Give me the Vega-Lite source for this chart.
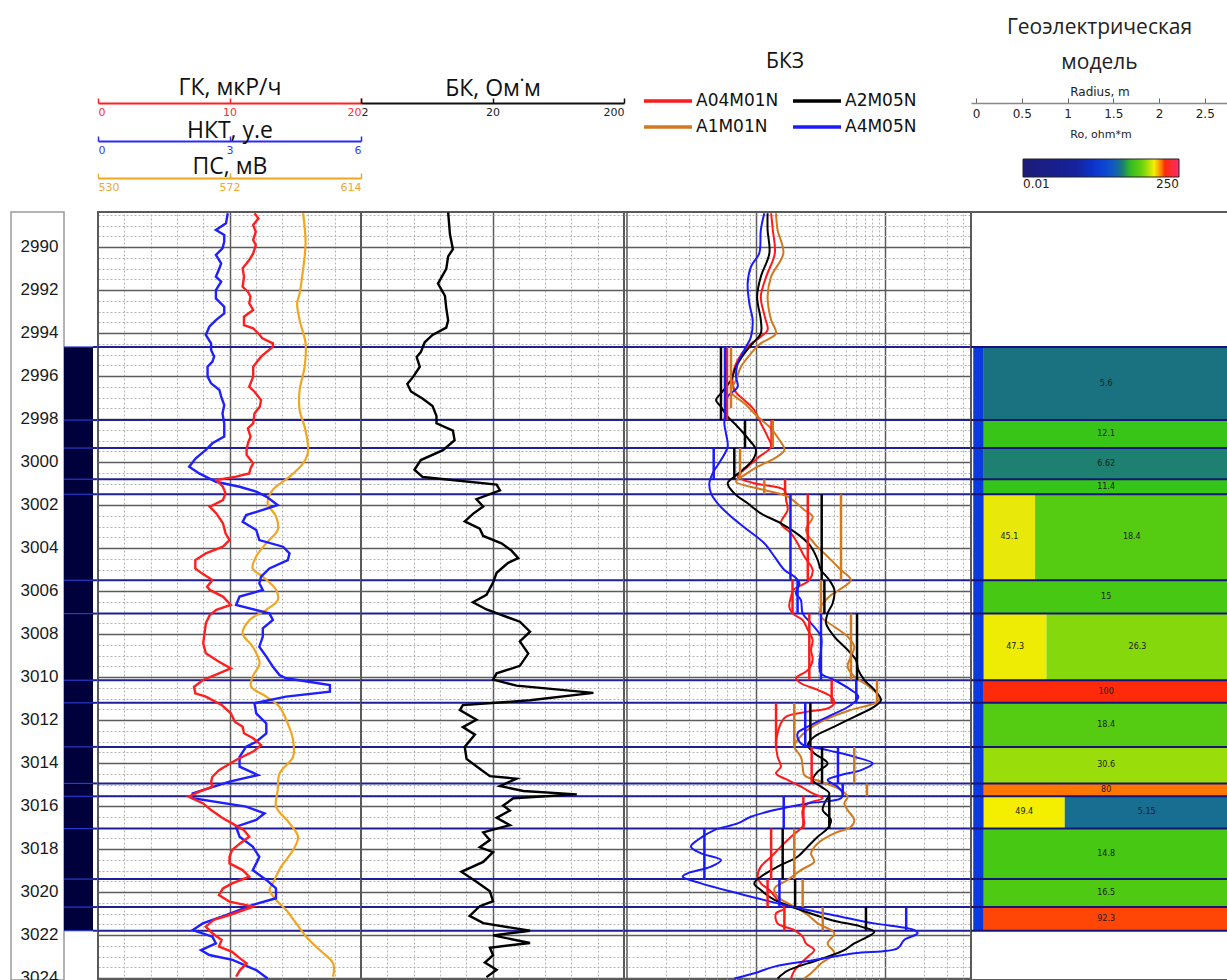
{
"$schema": "https://vega.github.io/schema/vega-lite/v6.json",
"padding": {"left": 10, "top": 16, "right": 0, "bottom": 0},
"background": "white",
"bounds": "flush",
"spacing": 0,
"config": {"view": {"stroke": "#5a5a5a", "strokeWidth": 2}, "font": "DejaVu Sans", "axis": {"titleFontWeight": "normal"}},
"datasets": {
"lith": [{"top": 2994.65, "bot": 3021.8}],
"bounds": [{"d":2994.65},{"d":2998.05},{"d":2999.35},{"d":3000.8},{"d":3001.5},{"d":3005.5},{"d":3007.05},{"d":3010.15},{"d":3011.2},{"d":3013.25},{"d":3014.95},{"d":3015.55},{"d":3017.05},{"d":3019.4},{"d":3020.7},{"d":3021.8}],
"gk": [{"d":2988.43,"v":11.9},{"d":2988.67,"v":12.2},{"d":2988.98,"v":11.8},{"d":2989.29,"v":12.0},{"d":2989.67,"v":11.8},{"d":2989.91,"v":12.0},{"d":2990.30,"v":11.8},{"d":2990.61,"v":11.5},{"d":2990.99,"v":11.0},{"d":2991.38,"v":11.1},{"d":2991.85,"v":11.0},{"d":2992.08,"v":11.4},{"d":2992.31,"v":11.6},{"d":2992.62,"v":11.5},{"d":2992.93,"v":11.8},{"d":2993.24,"v":11.1},{"d":2993.63,"v":11.1},{"d":2993.78,"v":11.8},{"d":2994.09,"v":12.3},{"d":2994.25,"v":12.5},{"d":2994.48,"v":13.3},{"d":2994.64,"v":13.3},{"d":2995.10,"v":12.4},{"d":2995.57,"v":11.8},{"d":2996.03,"v":11.8},{"d":2996.50,"v":11.5},{"d":2996.73,"v":11.9},{"d":2997.12,"v":12.4},{"d":2997.43,"v":12.3},{"d":2997.74,"v":11.9},{"d":2998.20,"v":11.8},{"d":2998.43,"v":11.4},{"d":2998.82,"v":11.6},{"d":2999.13,"v":11.4},{"d":2999.44,"v":11.3},{"d":2999.67,"v":11.3},{"d":3000.06,"v":11.8},{"d":3000.30,"v":11.6},{"d":3000.53,"v":11.5},{"d":3000.68,"v":10.5},{"d":3000.84,"v":9.0},{"d":3001.15,"v":9.5},{"d":3001.46,"v":9.7},{"d":3001.77,"v":9.5},{"d":3002.08,"v":8.5},{"d":3002.39,"v":9.0},{"d":3002.85,"v":9.5},{"d":3003.32,"v":9.7},{"d":3003.63,"v":10.0},{"d":3003.94,"v":9.5},{"d":3004.25,"v":8.2},{"d":3004.56,"v":7.4},{"d":3004.95,"v":7.4},{"d":3005.18,"v":7.9},{"d":3005.49,"v":8.7},{"d":3005.80,"v":8.3},{"d":3005.95,"v":8.5},{"d":3006.26,"v":9.5},{"d":3006.65,"v":10.1},{"d":3006.88,"v":9.0},{"d":3007.12,"v":8.5},{"d":3007.50,"v":8.2},{"d":3007.97,"v":8.1},{"d":3008.43,"v":8.0},{"d":3008.90,"v":8.2},{"d":3009.29,"v":9.2},{"d":3009.60,"v":10.1},{"d":3009.83,"v":9.2},{"d":3010.14,"v":8.0},{"d":3010.45,"v":7.3},{"d":3010.76,"v":7.4},{"d":3010.91,"v":8.2},{"d":3011.30,"v":9.4},{"d":3011.69,"v":10.1},{"d":3012.08,"v":10.4},{"d":3012.31,"v":11.0},{"d":3012.62,"v":11.1},{"d":3012.85,"v":11.8},{"d":3013.16,"v":12.4},{"d":3013.47,"v":11.8},{"d":3013.86,"v":10.5},{"d":3014.33,"v":9.2},{"d":3014.64,"v":8.7},{"d":3014.87,"v":8.6},{"d":3015.10,"v":8.7},{"d":3015.33,"v":7.7},{"d":3015.57,"v":6.9},{"d":3015.88,"v":8.0},{"d":3016.19,"v":8.6},{"d":3016.57,"v":9.5},{"d":3016.81,"v":10.2},{"d":3017.12,"v":11.1},{"d":3017.43,"v":11.5},{"d":3017.74,"v":10.8},{"d":3018.05,"v":10.2},{"d":3018.36,"v":10.0},{"d":3018.67,"v":10.0},{"d":3018.98,"v":11.0},{"d":3019.29,"v":11.5},{"d":3019.60,"v":10.2},{"d":3019.83,"v":9.5},{"d":3020.14,"v":9.2},{"d":3020.45,"v":10.0},{"d":3020.68,"v":11.8},{"d":3021.07,"v":10.0},{"d":3021.30,"v":8.8},{"d":3021.61,"v":8.2},{"d":3021.92,"v":8.7},{"d":3022.23,"v":9.4},{"d":3022.54,"v":9.2},{"d":3022.78,"v":10.2},{"d":3023.09,"v":10.8},{"d":3023.32,"v":11.3},{"d":3023.63,"v":10.8},{"d":3023.94,"v":10.5}],
"nkt": [{"d":2988.43,"v":2.96},{"d":2988.90,"v":2.92},{"d":2989.21,"v":2.69},{"d":2989.44,"v":2.88},{"d":2989.75,"v":2.88},{"d":2990.06,"v":2.84},{"d":2990.37,"v":2.69},{"d":2990.76,"v":2.81},{"d":2990.99,"v":2.77},{"d":2991.38,"v":2.69},{"d":2991.61,"v":2.81},{"d":2992.00,"v":2.69},{"d":2992.39,"v":2.69},{"d":2992.78,"v":2.88},{"d":2993.09,"v":2.88},{"d":2993.40,"v":2.69},{"d":2993.71,"v":2.54},{"d":2994.09,"v":2.46},{"d":2994.48,"v":2.58},{"d":2994.79,"v":2.58},{"d":2995.10,"v":2.65},{"d":2995.33,"v":2.61},{"d":2995.57,"v":2.50},{"d":2996.03,"v":2.50},{"d":2996.34,"v":2.58},{"d":2996.65,"v":2.77},{"d":2996.96,"v":2.81},{"d":2997.35,"v":2.88},{"d":2997.74,"v":2.84},{"d":2998.20,"v":2.88},{"d":2998.59,"v":2.88},{"d":2998.82,"v":2.88},{"d":2999.13,"v":2.61},{"d":2999.44,"v":2.46},{"d":2999.83,"v":2.23},{"d":3000.22,"v":2.08},{"d":3000.53,"v":2.31},{"d":3000.92,"v":2.69},{"d":3001.15,"v":3.23},{"d":3001.38,"v":3.61},{"d":3001.61,"v":3.84},{"d":3002.00,"v":4.10},{"d":3002.23,"v":3.76},{"d":3002.47,"v":3.38},{"d":3002.78,"v":3.30},{"d":3003.16,"v":3.61},{"d":3003.63,"v":3.68},{"d":3003.94,"v":4.22},{"d":3004.25,"v":4.37},{"d":3004.56,"v":4.33},{"d":3004.95,"v":3.91},{"d":3005.33,"v":3.72},{"d":3005.64,"v":3.68},{"d":3005.95,"v":3.76},{"d":3006.26,"v":3.23},{"d":3006.65,"v":3.15},{"d":3007.04,"v":3.91},{"d":3007.35,"v":3.99},{"d":3007.74,"v":3.76},{"d":3008.12,"v":3.76},{"d":3008.59,"v":3.68},{"d":3009.05,"v":3.84},{"d":3009.52,"v":3.99},{"d":3009.91,"v":4.14},{"d":3010.06,"v":4.29},{"d":3010.37,"v":5.29},{"d":3010.68,"v":5.29},{"d":3010.91,"v":4.29},{"d":3011.22,"v":3.57},{"d":3011.69,"v":3.61},{"d":3012.16,"v":3.84},{"d":3012.62,"v":3.84},{"d":3013.01,"v":3.61},{"d":3013.24,"v":3.38},{"d":3013.71,"v":3.23},{"d":3014.17,"v":3.23},{"d":3014.56,"v":3.65},{"d":3014.87,"v":3.00},{"d":3015.41,"v":2.16},{"d":3015.64,"v":2.16},{"d":3016.03,"v":3.38},{"d":3016.34,"v":3.80},{"d":3016.65,"v":3.61},{"d":3016.96,"v":3.15},{"d":3017.43,"v":3.23},{"d":3017.89,"v":3.53},{"d":3018.36,"v":3.68},{"d":3018.67,"v":3.61},{"d":3018.98,"v":3.53},{"d":3019.44,"v":3.84},{"d":3019.83,"v":4.06},{"d":3020.29,"v":4.06},{"d":3020.60,"v":3.53},{"d":3021.07,"v":2.92},{"d":3021.46,"v":2.39},{"d":3021.77,"v":2.16},{"d":3022.08,"v":2.61},{"d":3022.39,"v":2.69},{"d":3022.70,"v":2.35},{"d":3022.93,"v":2.54},{"d":3023.16,"v":3.07},{"d":3023.63,"v":3.61},{"d":3024.02,"v":3.87}],
"ps": [{"d":2988.43,"v":595.5},{"d":2989.83,"v":596.3},{"d":2991.38,"v":595.2},{"d":2992.16,"v":594.4},{"d":2992.62,"v":593.6},{"d":2993.40,"v":594.4},{"d":2994.48,"v":596.3},{"d":2995.57,"v":596.0},{"d":2996.65,"v":594.4},{"d":2997.58,"v":594.4},{"d":2998.36,"v":596.0},{"d":2999.13,"v":597.0},{"d":2999.60,"v":597.0},{"d":3000.06,"v":595.5},{"d":3000.68,"v":591.2},{"d":3001.30,"v":585.8},{"d":3001.92,"v":584.2},{"d":3002.54,"v":586.9},{"d":3003.16,"v":587.4},{"d":3003.78,"v":583.7},{"d":3004.40,"v":580.5},{"d":3004.95,"v":579.4},{"d":3005.33,"v":582.6},{"d":3005.95,"v":586.9},{"d":3006.42,"v":587.4},{"d":3006.88,"v":583.7},{"d":3007.35,"v":578.4},{"d":3007.97,"v":576.2},{"d":3008.59,"v":579.4},{"d":3009.36,"v":581.6},{"d":3009.98,"v":579.4},{"d":3010.45,"v":578.9},{"d":3010.91,"v":583.7},{"d":3011.38,"v":587.9},{"d":3012.16,"v":590.6},{"d":3012.93,"v":592.3},{"d":3013.71,"v":592.3},{"d":3014.48,"v":588.0},{"d":3015.26,"v":587.4},{"d":3016.03,"v":586.9},{"d":3016.81,"v":591.2},{"d":3017.43,"v":593.9},{"d":3018.05,"v":592.3},{"d":3018.82,"v":588.5},{"d":3019.60,"v":585.8},{"d":3019.91,"v":584.8},{"d":3020.37,"v":586.9},{"d":3020.84,"v":590.1},{"d":3021.46,"v":593.3},{"d":3022.08,"v":596.5},{"d":3022.70,"v":600.8},{"d":3023.32,"v":605.1},{"d":3023.94,"v":605.1}],
"bk": [{"d":2988.39,"v":9.2},{"d":2989.42,"v":9.5},{"d":2990.10,"v":10.0},{"d":2990.44,"v":9.2},{"d":2991.02,"v":8.9},{"d":2991.70,"v":7.7},{"d":2992.27,"v":8.7},{"d":2992.84,"v":8.9},{"d":2993.41,"v":9.2},{"d":2993.75,"v":8.9},{"d":2994.09,"v":7.0},{"d":2994.43,"v":6.1},{"d":2994.89,"v":5.7},{"d":2995.12,"v":5.3},{"d":2995.57,"v":5.6},{"d":2996.03,"v":5.0},{"d":2996.37,"v":4.5},{"d":2996.72,"v":4.8},{"d":2997.06,"v":5.9},{"d":2997.40,"v":7.0},{"d":2997.86,"v":7.5},{"d":2998.20,"v":7.5},{"d":2998.54,"v":10.0},{"d":2998.99,"v":10.3},{"d":2999.45,"v":8.4},{"d":2999.91,"v":5.7},{"d":3000.36,"v":5.1},{"d":3000.70,"v":5.9},{"d":3001.05,"v":21.5},{"d":3001.32,"v":22.8},{"d":3001.73,"v":15.1},{"d":3002.07,"v":17.0},{"d":3002.41,"v":14.2},{"d":3002.76,"v":12.3},{"d":3003.10,"v":16.0},{"d":3003.44,"v":17.0},{"d":3003.78,"v":23.4},{"d":3004.12,"v":27.9},{"d":3004.47,"v":31.4},{"d":3004.69,"v":26.3},{"d":3005.15,"v":21.5},{"d":3005.61,"v":20.2},{"d":3006.18,"v":18.0},{"d":3006.52,"v":14.2},{"d":3006.86,"v":18.0},{"d":3007.43,"v":32.3},{"d":3007.89,"v":38.6},{"d":3008.34,"v":32.3},{"d":3008.91,"v":37.4},{"d":3009.48,"v":32.3},{"d":3009.83,"v":21.5},{"d":3010.12,"v":20.2},{"d":3010.40,"v":30.5},{"d":3010.74,"v":117},{"d":3011.08,"v":38.6},{"d":3011.31,"v":11.9},{"d":3011.54,"v":11.3},{"d":3011.99,"v":15.1},{"d":3012.33,"v":11.9},{"d":3012.68,"v":14.7},{"d":3013.25,"v":12.3},{"d":3013.81,"v":12.7},{"d":3014.27,"v":16.0},{"d":3014.61,"v":19.1},{"d":3014.73,"v":30.5},{"d":3015.07,"v":22.8},{"d":3015.30,"v":34.3},{"d":3015.46,"v":87.5},{"d":3015.64,"v":28.8},{"d":3015.98,"v":24.1},{"d":3016.21,"v":27.1},{"d":3016.55,"v":21.5},{"d":3016.89,"v":27.1},{"d":3017.23,"v":17.0},{"d":3017.58,"v":19.1},{"d":3017.92,"v":16.0},{"d":3018.15,"v":20.2},{"d":3018.60,"v":17.0},{"d":3019.06,"v":11.6},{"d":3019.52,"v":15.1},{"d":3019.97,"v":19.1},{"d":3020.43,"v":20.2},{"d":3020.66,"v":16.0},{"d":3021.11,"v":13.4},{"d":3021.45,"v":17.0},{"d":3021.80,"v":38.6},{"d":3022.02,"v":20.2},{"d":3022.37,"v":38.6},{"d":3022.59,"v":19.1},{"d":3022.94,"v":20.2},{"d":3023.28,"v":17.5},{"d":3023.62,"v":21.5},{"d":3023.96,"v":18.0}],
"bkz": [
{"c":"A04M01N","d":2988.43,"v":13.1},{"c":"A04M01N","d":2989.21,"v":13.5},{"c":"A04M01N","d":2990.29,"v":14.0},{"c":"A04M01N","d":2991.38,"v":12.0},{"c":"A04M01N","d":2992.31,"v":10.9},{"c":"A04M01N","d":2993.24,"v":11.7},{"c":"A04M01N","d":2993.86,"v":12.3},{"c":"A04M01N","d":2994.17,"v":10.9},{"c":"A04M01N","d":2994.64,"v":8.62},{"c":"A04M01N","d":2995.26,"v":7.21},{"c":"A04M01N","d":2996.03,"v":6.59},{"c":"A04M01N","d":2996.65,"v":6.79},{"c":"A04M01N","d":2997.12,"v":8.12},{"c":"A04M01N","d":2997.58,"v":9.70},{"c":"A04M01N","d":2998.20,"v":10.9},{"c":"A04M01N","d":2998.82,"v":12.3},{"c":"A04M01N","d":2999.29,"v":13.1},{"c":"A04M01N","d":2999.75,"v":10.6},{"c":"A04M01N","d":3000.22,"v":8.62},{"c":"A04M01N","d":3000.68,"v":7.21},{"c":"A04M01N","d":3000.99,"v":9.70},{"c":"A04M01N","d":3001.30,"v":16.6},{"c":"A04M01N","d":3001.77,"v":17.1},{"c":"A04M01N","d":3002.23,"v":17.6},{"c":"A04M01N","d":3002.85,"v":15.6},{"c":"A04M01N","d":3003.32,"v":18.7},{"c":"A04M01N","d":3003.78,"v":21.0},{"c":"A04M01N","d":3004.40,"v":23.7},{"c":"A04M01N","d":3005.02,"v":27.5},{"c":"A04M01N","d":3005.49,"v":25.9},{"c":"A04M01N","d":3005.95,"v":19.5},{"c":"A04M01N","d":3006.26,"v":18.7},{"c":"A04M01N","d":3006.73,"v":18.1},{"c":"A04M01N","d":3007.04,"v":19.2},{"c":"A04M01N","d":3007.35,"v":23.0},{"c":"A04M01N","d":3007.81,"v":25.2},{"c":"A04M01N","d":3008.28,"v":27.5},{"c":"A04M01N","d":3008.74,"v":26.7},{"c":"A04M01N","d":3009.21,"v":27.5},{"c":"A04M01N","d":3009.68,"v":25.2},{"c":"A04M01N","d":3010.06,"v":20.4},{"c":"A04M01N","d":3010.29,"v":22.3},{"c":"A04M01N","d":3010.60,"v":30.1},{"c":"A04M01N","d":3010.91,"v":38.1},{"c":"A04M01N","d":3011.22,"v":40.5},{"c":"A04M01N","d":3011.46,"v":35.9},{"c":"A04M01N","d":3011.61,"v":25.2},{"c":"A04M01N","d":3011.84,"v":17.1},{"c":"A04M01N","d":3012.15,"v":15.6},{"c":"A04M01N","d":3012.62,"v":14.7},{"c":"A04M01N","d":3013.08,"v":14.3},{"c":"A04M01N","d":3013.71,"v":14.7},{"c":"A04M01N","d":3014.17,"v":15.6},{"c":"A04M01N","d":3014.48,"v":14.3},{"c":"A04M01N","d":3014.79,"v":17.6},{"c":"A04M01N","d":3015.10,"v":22.3},{"c":"A04M01N","d":3015.41,"v":27.5},{"c":"A04M01N","d":3015.64,"v":32.9},{"c":"A04M01N","d":3015.88,"v":25.2},{"c":"A04M01N","d":3016.19,"v":23.0},{"c":"A04M01N","d":3016.50,"v":23.0},{"c":"A04M01N","d":3016.81,"v":23.7},{"c":"A04M01N","d":3017.04,"v":22.3},{"c":"A04M01N","d":3017.43,"v":18.7},{"c":"A04M01N","d":3017.89,"v":15.6},{"c":"A04M01N","d":3018.36,"v":13.1},{"c":"A04M01N","d":3018.82,"v":10.9},{"c":"A04M01N","d":3019.29,"v":10.3},{"c":"A04M01N","d":3019.60,"v":10.9},{"c":"A04M01N","d":3019.91,"v":12.7},{"c":"A04M01N","d":3020.37,"v":14.7},{"c":"A04M01N","d":3020.76,"v":16.6},{"c":"A04M01N","d":3020.99,"v":14.3},{"c":"A04M01N","d":3021.46,"v":14.7},{"c":"A04M01N","d":3021.77,"v":19.8},{"c":"A04M01N","d":3022.08,"v":23.0},{"c":"A04M01N","d":3022.39,"v":24.4},{"c":"A04M01N","d":3022.70,"v":28.3},{"c":"A04M01N","d":3023.01,"v":25.2},{"c":"A04M01N","d":3023.32,"v":22.3},{"c":"A04M01N","d":3023.66,"v":19.8},{"c":"A04M01N","d":3024.02,"v":18.7},
{"c":"A1M01N","d":2988.43,"v":14.3},{"c":"A1M01N","d":2989.21,"v":14.7},{"c":"A1M01N","d":2990.29,"v":16.3},{"c":"A1M01N","d":2991.38,"v":13.1},{"c":"A1M01N","d":2992.31,"v":12.3},{"c":"A1M01N","d":2993.40,"v":13.1},{"c":"A1M01N","d":2994.02,"v":14.3},{"c":"A1M01N","d":2994.48,"v":10.9},{"c":"A1M01N","d":2994.95,"v":9.15},{"c":"A1M01N","d":2995.57,"v":7.65},{"c":"A1M01N","d":2996.19,"v":7.00},{"c":"A1M01N","d":2996.73,"v":6.40},{"c":"A1M01N","d":2997.27,"v":8.12},{"c":"A1M01N","d":2997.89,"v":10.3},{"c":"A1M01N","d":2998.36,"v":12.7},{"c":"A1M01N","d":2998.98,"v":15.2},{"c":"A1M01N","d":2999.44,"v":16.6},{"c":"A1M01N","d":2999.83,"v":13.9},{"c":"A1M01N","d":3000.22,"v":10.3},{"c":"A1M01N","d":3000.61,"v":8.12},{"c":"A1M01N","d":3000.91,"v":7.0},{"c":"A1M01N","d":3001.30,"v":11.6},{"c":"A1M01N","d":3001.61,"v":17.6},{"c":"A1M01N","d":3002.23,"v":23.7},{"c":"A1M01N","d":3002.54,"v":27.5},{"c":"A1M01N","d":3003.16,"v":24.4},{"c":"A1M01N","d":3003.78,"v":28.3},{"c":"A1M01N","d":3004.40,"v":35.9},{"c":"A1M01N","d":3005.02,"v":45.6},{"c":"A1M01N","d":3005.49,"v":54.5},{"c":"A1M01N","d":3005.95,"v":44.0},{"c":"A1M01N","d":3006.26,"v":37.0},{"c":"A1M01N","d":3006.73,"v":31.9},{"c":"A1M01N","d":3007.19,"v":31.9},{"c":"A1M01N","d":3007.66,"v":40.5},{"c":"A1M01N","d":3008.12,"v":51.3},{"c":"A1M01N","d":3008.59,"v":57.8},{"c":"A1M01N","d":3009.05,"v":54.5},{"c":"A1M01N","d":3009.52,"v":51.3},{"c":"A1M01N","d":3009.98,"v":57.8},{"c":"A1M01N","d":3010.45,"v":75.6},{"c":"A1M01N","d":3010.91,"v":90.4},{"c":"A1M01N","d":3011.15,"v":87.8},{"c":"A1M01N","d":3011.53,"v":54.5},{"c":"A1M01N","d":3012.00,"v":33.9},{"c":"A1M01N","d":3012.46,"v":25.2},{"c":"A1M01N","d":3012.93,"v":21.0},{"c":"A1M01N","d":3013.24,"v":19.8},{"c":"A1M01N","d":3013.71,"v":22.3},{"c":"A1M01N","d":3014.17,"v":23.0},{"c":"A1M01N","d":3014.56,"v":23.7},{"c":"A1M01N","d":3014.87,"v":31.9},{"c":"A1M01N","d":3015.26,"v":45.6},{"c":"A1M01N","d":3015.57,"v":51.3},{"c":"A1M01N","d":3015.88,"v":48.4},{"c":"A1M01N","d":3016.19,"v":51.3},{"c":"A1M01N","d":3016.65,"v":57.8},{"c":"A1M01N","d":3016.96,"v":54.5},{"c":"A1M01N","d":3017.27,"v":40.5},{"c":"A1M01N","d":3017.74,"v":30.1},{"c":"A1M01N","d":3018.20,"v":26.7},{"c":"A1M01N","d":3018.59,"v":28.3},{"c":"A1M01N","d":3018.98,"v":22.3},{"c":"A1M01N","d":3019.44,"v":17.6},{"c":"A1M01N","d":3019.83,"v":13.9},{"c":"A1M01N","d":3020.22,"v":14.7},{"c":"A1M01N","d":3020.68,"v":19.8},{"c":"A1M01N","d":3021.07,"v":25.2},{"c":"A1M01N","d":3021.46,"v":30.1},{"c":"A1M01N","d":3021.92,"v":40.5},{"c":"A1M01N","d":3022.39,"v":35.9},{"c":"A1M01N","d":3022.85,"v":40.5},{"c":"A1M01N","d":3023.32,"v":31.9},{"c":"A1M01N","d":3023.78,"v":26.7},{"c":"A1M01N","d":3024.02,"v":23.7},
{"c":"A2M05N","d":2988.43,"v":12.3},{"c":"A2M05N","d":2989.21,"v":12.3},{"c":"A2M05N","d":2990.29,"v":12.7},{"c":"A2M05N","d":2991.38,"v":10.9},{"c":"A2M05N","d":2992.31,"v":10.2},{"c":"A2M05N","d":2993.40,"v":10.9},{"c":"A2M05N","d":2994.02,"v":10.9},{"c":"A2M05N","d":2994.48,"v":9.42},{"c":"A2M05N","d":2994.95,"v":8.12},{"c":"A2M05N","d":2995.57,"v":7.00},{"c":"A2M05N","d":2996.19,"v":6.40},{"c":"A2M05N","d":2996.81,"v":5.35},{"c":"A2M05N","d":2997.12,"v":4.90},{"c":"A2M05N","d":2997.43,"v":5.35},{"c":"A2M05N","d":2997.89,"v":6.03},{"c":"A2M05N","d":2998.36,"v":7.21},{"c":"A2M05N","d":2998.98,"v":8.88},{"c":"A2M05N","d":2999.44,"v":10.0},{"c":"A2M05N","d":2999.91,"v":9.42},{"c":"A2M05N","d":3000.37,"v":7.88},{"c":"A2M05N","d":3000.68,"v":6.79},{"c":"A2M05N","d":3000.99,"v":6.03},{"c":"A2M05N","d":3001.46,"v":6.79},{"c":"A2M05N","d":3001.92,"v":8.62},{"c":"A2M05N","d":3002.39,"v":10.9},{"c":"A2M05N","d":3002.85,"v":15.6},{"c":"A2M05N","d":3003.47,"v":22.3},{"c":"A2M05N","d":3003.94,"v":26.7},{"c":"A2M05N","d":3004.56,"v":30.1},{"c":"A2M05N","d":3005.02,"v":31.9},{"c":"A2M05N","d":3005.49,"v":37.0},{"c":"A2M05N","d":3005.95,"v":40.5},{"c":"A2M05N","d":3006.57,"v":39.3},{"c":"A2M05N","d":3007.04,"v":35.9},{"c":"A2M05N","d":3007.50,"v":34.9},{"c":"A2M05N","d":3008.12,"v":40.5},{"c":"A2M05N","d":3008.74,"v":51.3},{"c":"A2M05N","d":3009.21,"v":59.6},{"c":"A2M05N","d":3009.67,"v":62.1},{"c":"A2M05N","d":3010.14,"v":69.2},{"c":"A2M05N","d":3010.60,"v":82.7},{"c":"A2M05N","d":3011.07,"v":93.1},{"c":"A2M05N","d":3011.38,"v":82.7},{"c":"A2M05N","d":3011.85,"v":57.8},{"c":"A2M05N","d":3012.31,"v":40.5},{"c":"A2M05N","d":3012.78,"v":28.3},{"c":"A2M05N","d":3013.16,"v":25.2},{"c":"A2M05N","d":3013.55,"v":28.3},{"c":"A2M05N","d":3014.02,"v":35.9},{"c":"A2M05N","d":3014.40,"v":30.1},{"c":"A2M05N","d":3014.79,"v":27.5},{"c":"A2M05N","d":3015.10,"v":31.9},{"c":"A2M05N","d":3015.41,"v":37.0},{"c":"A2M05N","d":3015.88,"v":33.9},{"c":"A2M05N","d":3016.19,"v":32.9},{"c":"A2M05N","d":3016.65,"v":38.1},{"c":"A2M05N","d":3017.04,"v":35.9},{"c":"A2M05N","d":3017.43,"v":30.1},{"c":"A2M05N","d":3017.89,"v":25.2},{"c":"A2M05N","d":3018.36,"v":21.0},{"c":"A2M05N","d":3018.82,"v":14.7},{"c":"A2M05N","d":3019.29,"v":10.9},{"c":"A2M05N","d":3019.60,"v":9.70},{"c":"A2M05N","d":3019.91,"v":10.9},{"c":"A2M05N","d":3020.37,"v":13.9},{"c":"A2M05N","d":3020.84,"v":22.3},{"c":"A2M05N","d":3021.30,"v":38.1},{"c":"A2M05N","d":3021.61,"v":65.2},{"c":"A2M05N","d":3021.85,"v":82.7},{"c":"A2M05N","d":3022.08,"v":73.4},{"c":"A2M05N","d":3022.39,"v":57.8},{"c":"A2M05N","d":3022.70,"v":48.4},{"c":"A2M05N","d":3023.01,"v":35.9},{"c":"A2M05N","d":3023.32,"v":25.2},{"c":"A2M05N","d":3023.66,"v":17.6},{"c":"A2M05N","d":3024.02,"v":14.7},
{"c":"A4M05N","d":2988.43,"v":11.6},{"c":"A4M05N","d":2989.21,"v":10.9},{"c":"A4M05N","d":2990.29,"v":10.6},{"c":"A4M05N","d":2990.91,"v":9.15},{"c":"A4M05N","d":2991.69,"v":8.62},{"c":"A4M05N","d":2992.62,"v":8.88},{"c":"A4M05N","d":2993.40,"v":9.42},{"c":"A4M05N","d":2994.17,"v":9.15},{"c":"A4M05N","d":2994.79,"v":8.12},{"c":"A4M05N","d":2995.41,"v":7.21},{"c":"A4M05N","d":2996.03,"v":7.00},{"c":"A4M05N","d":2996.50,"v":7.21},{"c":"A4M05N","d":2996.96,"v":6.03},{"c":"A4M05N","d":2997.58,"v":5.85},{"c":"A4M05N","d":2998.20,"v":5.68},{"c":"A4M05N","d":2998.67,"v":5.85},{"c":"A4M05N","d":2999.29,"v":6.03},{"c":"A4M05N","d":2999.91,"v":5.35},{"c":"A4M05N","d":3000.53,"v":4.61},{"c":"A4M05N","d":3000.99,"v":4.35},{"c":"A4M05N","d":3001.46,"v":4.48},{"c":"A4M05N","d":3001.92,"v":5.04},{"c":"A4M05N","d":3002.54,"v":6.40},{"c":"A4M05N","d":3003.16,"v":8.62},{"c":"A4M05N","d":3003.78,"v":11.6},{"c":"A4M05N","d":3004.40,"v":13.9},{"c":"A4M05N","d":3005.02,"v":16.6},{"c":"A4M05N","d":3005.33,"v":19.8},{"c":"A4M05N","d":3005.64,"v":21.7},{"c":"A4M05N","d":3006.11,"v":20.4},{"c":"A4M05N","d":3006.42,"v":22.3},{"c":"A4M05N","d":3007.04,"v":23.0},{"c":"A4M05N","d":3007.50,"v":26.7},{"c":"A4M05N","d":3008.12,"v":31.9},{"c":"A4M05N","d":3008.74,"v":31.9},{"c":"A4M05N","d":3009.36,"v":31.0},{"c":"A4M05N","d":3009.83,"v":31.9},{"c":"A4M05N","d":3010.14,"v":40.5},{"c":"A4M05N","d":3010.60,"v":54.5},{"c":"A4M05N","d":3010.91,"v":62.1},{"c":"A4M05N","d":3011.30,"v":54.5},{"c":"A4M05N","d":3011.85,"v":35.9},{"c":"A4M05N","d":3012.31,"v":25.2},{"c":"A4M05N","d":3012.62,"v":21.0},{"c":"A4M05N","d":3013.09,"v":22.3},{"c":"A4M05N","d":3013.40,"v":35.9},{"c":"A4M05N","d":3013.71,"v":57.8},{"c":"A4M05N","d":3014.02,"v":80.3},{"c":"A4M05N","d":3014.33,"v":65.2},{"c":"A4M05N","d":3014.56,"v":45.6},{"c":"A4M05N","d":3014.79,"v":35.9},{"c":"A4M05N","d":3015.10,"v":43.0},{"c":"A4M05N","d":3015.41,"v":47.0},{"c":"A4M05N","d":3015.64,"v":45.6},{"c":"A4M05N","d":3015.88,"v":25.2},{"c":"A4M05N","d":3016.19,"v":13.9},{"c":"A4M05N","d":3016.50,"v":9.15},{"c":"A4M05N","d":3016.81,"v":7.21},{"c":"A4M05N","d":3017.12,"v":4.75},{"c":"A4M05N","d":3017.58,"v":3.53},{"c":"A4M05N","d":3017.89,"v":3.13},{"c":"A4M05N","d":3018.20,"v":3.75},{"c":"A4M05N","d":3018.51,"v":5.35},{"c":"A4M05N","d":3018.82,"v":4.48},{"c":"A4M05N","d":3019.13,"v":2.95},{"c":"A4M05N","d":3019.29,"v":2.70},{"c":"A4M05N","d":3019.60,"v":3.75},{"c":"A4M05N","d":3020.06,"v":7.21},{"c":"A4M05N","d":3020.53,"v":14.7},{"c":"A4M05N","d":3020.84,"v":25.2},{"c":"A4M05N","d":3021.15,"v":45.6},{"c":"A4M05N","d":3021.46,"v":82.7},{"c":"A4M05N","d":3021.77,"v":169},{"c":"A4M05N","d":3021.92,"v":179},{"c":"A4M05N","d":3022.23,"v":141},{"c":"A4M05N","d":3022.62,"v":125},{"c":"A4M05N","d":3022.85,"v":57.8},{"c":"A4M05N","d":3023.16,"v":28.3},{"c":"A4M05N","d":3023.47,"v":13.9},{"c":"A4M05N","d":3023.78,"v":9.70},{"c":"A4M05N","d":3024.02,"v":6.79}],
"steps": [
{"c":"A2M05N","top":2994.65,"bot":2998.05,"v":5.35},{"c":"A04M01N","top":2994.65,"bot":2998.05,"v":5.96},{"c":"A1M01N","top":2994.65,"bot":2997.5,"v":6.40},{"c":"A4M05N","top":2994.65,"bot":2998.05,"v":5.75},
{"c":"A04M01N","top":2998.05,"bot":2999.35,"v":13.2},{"c":"A1M01N","top":2998.05,"bot":2999.35,"v":13.5},{"c":"A2M05N","top":2998.05,"bot":2999.35,"v":8.22},
{"c":"A4M05N","top":2999.35,"bot":3000.8,"v":4.70},{"c":"A2M05N","top":2999.35,"bot":3000.8,"v":6.79},{"c":"A1M01N","top":2999.35,"bot":3000.8,"v":7.52},
{"c":"A1M01N","top":3000.8,"bot":3001.5,"v":11.6},{"c":"A04M01N","top":3000.8,"bot":3001.5,"v":16.8},
{"c":"A4M05N","top":3001.5,"bot":3005.5,"v":18.5},{"c":"A04M01N","top":3001.5,"bot":3005.5,"v":25.2},{"c":"A2M05N","top":3001.5,"bot":3005.5,"v":32.3},{"c":"A1M01N","top":3001.5,"bot":3005.5,"v":45.6},
{"c":"A04M01N","top":3005.5,"bot":3007.05,"v":19.2},{"c":"A4M05N","top":3005.5,"bot":3007.05,"v":21.0},{"c":"A1M01N","top":3005.5,"bot":3007.05,"v":31.9},{"c":"A2M05N","top":3005.5,"bot":3007.05,"v":33.9},
{"c":"A04M01N","top":3007.05,"bot":3010.15,"v":25.9},{"c":"A4M05N","top":3007.05,"bot":3010.15,"v":31.9},{"c":"A1M01N","top":3007.05,"bot":3010.15,"v":54.5},{"c":"A2M05N","top":3007.05,"bot":3010.15,"v":60.7},
{"c":"A04M01N","top":3010.15,"bot":3011.2,"v":38.6},{"c":"A4M05N","top":3010.15,"bot":3011.2,"v":59.9},{"c":"A1M01N","top":3010.15,"bot":3011.2,"v":86.7},
{"c":"A04M01N","top":3011.2,"bot":3013.25,"v":14.3},{"c":"A1M01N","top":3011.2,"bot":3013.25,"v":19.8},{"c":"A4M05N","top":3011.2,"bot":3013.25,"v":24.1},{"c":"A2M05N","top":3011.2,"bot":3013.25,"v":26.4},
{"c":"A04M01N","top":3013.25,"bot":3014.95,"v":27.0},{"c":"A2M05N","top":3013.25,"bot":3014.95,"v":32.5},{"c":"A4M05N","top":3013.25,"bot":3014.95,"v":43.2},{"c":"A1M01N","top":3013.25,"bot":3014.95,"v":57.8},
{"c":"A1M01N","top":3014.95,"bot":3015.55,"v":72.5},{"c":"A4M05N","top":3014.95,"bot":3015.55,"v":47.0},
{"c":"A04M01N","top":3015.55,"bot":3017.05,"v":23.3},{"c":"A4M05N","top":3015.55,"bot":3017.05,"v":16.4},{"c":"A2M05N","top":3015.55,"bot":3017.05,"v":37.0},
{"c":"A4M05N","top":3017.05,"bot":3019.4,"v":3.98},{"c":"A04M01N","top":3017.05,"bot":3019.4,"v":13.1},{"c":"A2M05N","top":3017.05,"bot":3019.4,"v":16.1},{"c":"A1M01N","top":3017.05,"bot":3019.4,"v":19.8},
{"c":"A4M05N","top":3019.4,"bot":3020.7,"v":15.2},{"c":"A2M05N","top":3019.4,"bot":3020.7,"v":20.1},{"c":"A1M01N","top":3019.4,"bot":3020.7,"v":23.0},{"c":"A04M01N","top":3019.4,"bot":3020.7,"v":12.3},
{"c":"A04M01N","top":3020.7,"bot":3021.8,"v":16.6},{"c":"A1M01N","top":3020.7,"bot":3021.8,"v":32.9},{"c":"A2M05N","top":3020.7,"bot":3021.8,"v":71.2},{"c":"A4M05N","top":3020.7,"bot":3021.8,"v":146}],
"model": [
{"top":2994.65,"bot":3021.8,"r1":-0.03,"r2":0.085,"ro":1.5,"lab":null},
{"top":2994.65,"bot":2998.05,"r1":0.085,"r2":2.76,"ro":5.6,"lab":"5.6"},
{"top":2998.05,"bot":2999.35,"r1":0.085,"r2":2.76,"ro":12.1,"lab":"12.1"},
{"top":2999.35,"bot":3000.8,"r1":0.085,"r2":2.76,"ro":6.62,"lab":"6.62"},
{"top":3000.8,"bot":3001.5,"r1":0.085,"r2":2.76,"ro":11.4,"lab":"11.4"},
{"top":3001.5,"bot":3005.5,"r1":0.085,"r2":0.645,"ro":45.1,"lab":"45.1"},
{"top":3001.5,"bot":3005.5,"r1":0.645,"r2":2.76,"ro":18.4,"lab":"18.4"},
{"top":3005.5,"bot":3007.05,"r1":0.085,"r2":2.76,"ro":15,"lab":"15"},
{"top":3007.05,"bot":3010.15,"r1":0.085,"r2":0.77,"ro":47.3,"lab":"47.3"},
{"top":3007.05,"bot":3010.15,"r1":0.77,"r2":2.76,"ro":26.3,"lab":"26.3"},
{"top":3010.15,"bot":3011.2,"r1":0.085,"r2":2.76,"ro":100,"lab":"100"},
{"top":3011.2,"bot":3013.25,"r1":0.085,"r2":2.76,"ro":18.4,"lab":"18.4"},
{"top":3013.25,"bot":3014.95,"r1":0.085,"r2":2.76,"ro":30.6,"lab":"30.6"},
{"top":3014.95,"bot":3015.55,"r1":0.085,"r2":2.76,"ro":80,"lab":"80"},
{"top":3015.55,"bot":3017.05,"r1":0.085,"r2":0.97,"ro":49.4,"lab":"49.4"},
{"top":3015.55,"bot":3017.05,"r1":0.97,"r2":2.76,"ro":5.15,"lab":"5.15"},
{"top":3017.05,"bot":3019.4,"r1":0.085,"r2":2.76,"ro":14.8,"lab":"14.8"},
{"top":3019.4,"bot":3020.7,"r1":0.085,"r2":2.76,"ro":16.5,"lab":"16.5"},
{"top":3020.7,"bot":3021.8,"r1":0.085,"r2":2.76,"ro":92.3,"lab":"92.3"}]
},
"hconcat": [
{"width": 53, "height": 768, "view": {"stroke": "#9a9a9a", "strokeWidth": 1.5},
 "data": {"name": "lith"}, "mark": {"type": "rule", "opacity": 0},
 "encoding": {"y": {"datum": 2988.372, "type": "quantitative", "scale": {"domain":[2988.372,3024.093],"reverse":true,"nice":false,"zero":false},
   "axis": {"values": [2990,2992,2994,2996,2998,3000,3002,3004,3006,3008,3010,3012,3014,3016,3018,3020,3022,3024], "format": "d", "ticks": false, "tickSize": 0, "domain": false, "grid": false, "title": null, "labelAlign": "center", "labelBaseline": "middle", "labelPadding": -28, "labelFont": "Liberation Sans", "labelFontSize": 17, "labelColor": "#1a1a1a", "labelOffset": -1}}}},
{"width": 29, "height": 768, "view": {"stroke": null},
 "layer": [
  {"data": {"name": "lith"}, "mark": {"type": "rect", "fill": "#00003c"}, "encoding": {"y": {"field": "top", "type": "quantitative", "scale": {"domain":[2988.372,3024.093],"reverse":true,"nice":false,"zero":false}, "axis": null}, "y2": {"field": "bot"}}},
  {"data": {"name": "bounds"}, "mark": {"type": "rule", "stroke": "#2a3ac8", "strokeWidth": 1.2}, "encoding": {"y": {"field": "d", "type": "quantitative", "scale": {"domain":[2988.372,3024.093],"reverse":true,"nice":false,"zero":false}, "axis": null}}}
 ]},
{"width": 5, "height": 768, "view": {"stroke": null},
 "data": {"name": "bounds"}, "mark": {"type": "rule", "stroke": "#1f1f96", "strokeWidth": 2},
 "encoding": {"y": {"field": "d", "type": "quantitative", "scale": {"domain":[2988.372,3024.093],"reverse":true,"nice":false,"zero":false}, "axis": null}}},
{"width": 263, "height": 768,
 "resolve": {"scale": {"x": "independent"}, "axis": {"x": "independent"}},
 "layer": [
  {"data": {"name": "lith"}, "mark": {"type": "rule", "stroke": "#5a5a5a", "strokeWidth": 2},
   "encoding": {
    "x": {"datum": 0, "type": "quantitative", "scale": {"domain": [0, 10], "nice": false, "zero": false},
      "axis": {"orient": "bottom", "values": [1,2,3,4,5,6,7,8,9], "grid": true, "labels": false, "ticks": false, "domain": false, "title": null,
        "gridDash": {"condition": {"test": "datum.value === 5", "value": []}, "value": [2, 2]},
        "gridColor": {"condition": {"test": "datum.value === 5", "value": "#5c5c5c"}, "value": "#b4b4b4"},
        "gridWidth": {"condition": {"test": "datum.value === 5", "value": 1.5}, "value": 1}}},
    "y": {"datum": 2988.372, "type": "quantitative", "scale": {"domain":[2988.372,3024.093],"reverse":true,"nice":false,"zero":false},
      "axis": {"values": [2988.5,2989,2989.5,2990,2990.5,2991,2991.5,2992,2992.5,2993,2993.5,2994,2994.5,2995,2995.5,2996,2996.5,2997,2997.5,2998,2998.5,2999,2999.5,3000,3000.5,3001,3001.5,3002,3002.5,3003,3003.5,3004,3004.5,3005,3005.5,3006,3006.5,3007,3007.5,3008,3008.5,3009,3009.5,3010,3010.5,3011,3011.5,3012,3012.5,3013,3013.5,3014,3014.5,3015,3015.5,3016,3016.5,3017,3017.5,3018,3018.5,3019,3019.5,3020,3020.5,3021,3021.5,3022,3022.5,3023,3023.5,3024],"grid":true,"labels":false,"ticks":false,"domain":false,"title":null,"gridDash":{"condition":{"test":"datum.value % 2 === 0","value":[]},"value":[2,2]},"gridColor":{"condition":{"test":"datum.value % 2 === 0","value":"#5c5c5c"},"value":"#b4b4b4"},"gridWidth":{"condition":{"test":"datum.value % 2 === 0","value":1.5},"value":1}}},
    "y2": {"datum": 3024.093}}},
  {"data": {"name": "bounds"}, "mark": {"type": "rule", "stroke": "#1f1f96", "strokeWidth": 2}, "encoding": {"y": {"field": "d", "type": "quantitative", "scale": {"domain":[2988.372,3024.093],"reverse":true,"nice":false,"zero":false},
      "axis": {"values": [2988.5,2989,2989.5,2990,2990.5,2991,2991.5,2992,2992.5,2993,2993.5,2994,2994.5,2995,2995.5,2996,2996.5,2997,2997.5,2998,2998.5,2999,2999.5,3000,3000.5,3001,3001.5,3002,3002.5,3003,3003.5,3004,3004.5,3005,3005.5,3006,3006.5,3007,3007.5,3008,3008.5,3009,3009.5,3010,3010.5,3011,3011.5,3012,3012.5,3013,3013.5,3014,3014.5,3015,3015.5,3016,3016.5,3017,3017.5,3018,3018.5,3019,3019.5,3020,3020.5,3021,3021.5,3022,3022.5,3023,3023.5,3024],"grid":true,"labels":false,"ticks":false,"domain":false,"title":null,"gridDash":{"condition":{"test":"datum.value % 2 === 0","value":[]},"value":[2,2]},"gridColor":{"condition":{"test":"datum.value % 2 === 0","value":"#5c5c5c"},"value":"#b4b4b4"},"gridWidth":{"condition":{"test":"datum.value % 2 === 0","value":1.5},"value":1}}}}},
  {"data": {"name": "ps"}, "mark": {"type": "line", "stroke": "#f2a51f", "strokeWidth": 2.2, "interpolate": "catmull-rom", "clip": true},
   "encoding": {"x": {"field": "v", "type": "quantitative", "scale": {"domain": [530, 614], "nice": false, "zero": false},
     "axis": {"orient": "top", "offset": 34, "values": [530, 572, 614], "grid": false, "domainColor": "#f2a51f", "domainWidth": 2, "tickColor": "#f2a51f", "tickSize": 5, "tickWidth": 1.5, "labelColor": "#f0a830", "labelFont": "DejaVu Sans", "labelFontSize": 11, "labelBaseline": "top", "labelPadding": -8, "labelFlush": true, "title": "ПС, мВ", "titleFont": "Open Sans", "titleFontSize": 23, "titleColor": "#111", "titleBaseline": "middle", "titleY": -12}},
    "y": {"field": "d", "type": "quantitative", "scale": {"domain":[2988.372,3024.093],"reverse":true,"nice":false,"zero":false},
      "axis": {"values": [2988.5,2989,2989.5,2990,2990.5,2991,2991.5,2992,2992.5,2993,2993.5,2994,2994.5,2995,2995.5,2996,2996.5,2997,2997.5,2998,2998.5,2999,2999.5,3000,3000.5,3001,3001.5,3002,3002.5,3003,3003.5,3004,3004.5,3005,3005.5,3006,3006.5,3007,3007.5,3008,3008.5,3009,3009.5,3010,3010.5,3011,3011.5,3012,3012.5,3013,3013.5,3014,3014.5,3015,3015.5,3016,3016.5,3017,3017.5,3018,3018.5,3019,3019.5,3020,3020.5,3021,3021.5,3022,3022.5,3023,3023.5,3024],"grid":true,"labels":false,"ticks":false,"domain":false,"title":null,"gridDash":{"condition":{"test":"datum.value % 2 === 0","value":[]},"value":[2,2]},"gridColor":{"condition":{"test":"datum.value % 2 === 0","value":"#5c5c5c"},"value":"#b4b4b4"},"gridWidth":{"condition":{"test":"datum.value % 2 === 0","value":1.5},"value":1}}},
    "order": {"field": "d", "type": "quantitative"}}},
  {"data": {"name": "nkt"}, "mark": {"type": "line", "stroke": "#1f1fff", "strokeWidth": 2.4, "clip": true},
   "encoding": {"x": {"field": "v", "type": "quantitative", "scale": {"domain": [0, 6], "nice": false, "zero": false},
     "axis": {"orient": "top", "offset": 71, "values": [0, 3, 6], "grid": false, "domainColor": "#2a2aff", "domainWidth": 2, "tickColor": "#2a2aff", "tickSize": 5, "tickWidth": 1.5, "labelColor": "#3a3aff", "labelFont": "DejaVu Sans", "labelFontSize": 11, "labelBaseline": "top", "labelPadding": -8, "labelFlush": true, "title": "НКТ, у.е", "titleFont": "Open Sans", "titleFontSize": 23, "titleColor": "#111", "titleBaseline": "middle", "titleY": -11}},
    "y": {"field": "d", "type": "quantitative", "scale": {"domain":[2988.372,3024.093],"reverse":true,"nice":false,"zero":false},
      "axis": {"values": [2988.5,2989,2989.5,2990,2990.5,2991,2991.5,2992,2992.5,2993,2993.5,2994,2994.5,2995,2995.5,2996,2996.5,2997,2997.5,2998,2998.5,2999,2999.5,3000,3000.5,3001,3001.5,3002,3002.5,3003,3003.5,3004,3004.5,3005,3005.5,3006,3006.5,3007,3007.5,3008,3008.5,3009,3009.5,3010,3010.5,3011,3011.5,3012,3012.5,3013,3013.5,3014,3014.5,3015,3015.5,3016,3016.5,3017,3017.5,3018,3018.5,3019,3019.5,3020,3020.5,3021,3021.5,3022,3022.5,3023,3023.5,3024],"grid":true,"labels":false,"ticks":false,"domain":false,"title":null,"gridDash":{"condition":{"test":"datum.value % 2 === 0","value":[]},"value":[2,2]},"gridColor":{"condition":{"test":"datum.value % 2 === 0","value":"#5c5c5c"},"value":"#b4b4b4"},"gridWidth":{"condition":{"test":"datum.value % 2 === 0","value":1.5},"value":1}}},
    "order": {"field": "d", "type": "quantitative"}}},
  {"data": {"name": "gk"}, "mark": {"type": "line", "stroke": "#ff1f1f", "strokeWidth": 2.4, "clip": true},
   "encoding": {"x": {"field": "v", "type": "quantitative", "scale": {"domain": [0, 20], "nice": false, "zero": false},
     "axis": {"orient": "top", "offset": 109, "values": [0, 10, 20], "grid": false, "domainColor": "#ff2020", "domainWidth": 2, "tickColor": "#ff2020", "tickSize": 5, "tickWidth": 1.5, "labelColor": "#ff3030", "labelFont": "DejaVu Sans", "labelFontSize": 11, "labelBaseline": "top", "labelPadding": -8, "labelFlush": true, "title": "ГК, мкР/ч", "titleFont": "Open Sans", "titleFontSize": 23, "titleColor": "#111", "titleBaseline": "middle", "titleY": -16}},
    "y": {"field": "d", "type": "quantitative", "scale": {"domain":[2988.372,3024.093],"reverse":true,"nice":false,"zero":false},
      "axis": {"values": [2988.5,2989,2989.5,2990,2990.5,2991,2991.5,2992,2992.5,2993,2993.5,2994,2994.5,2995,2995.5,2996,2996.5,2997,2997.5,2998,2998.5,2999,2999.5,3000,3000.5,3001,3001.5,3002,3002.5,3003,3003.5,3004,3004.5,3005,3005.5,3006,3006.5,3007,3007.5,3008,3008.5,3009,3009.5,3010,3010.5,3011,3011.5,3012,3012.5,3013,3013.5,3014,3014.5,3015,3015.5,3016,3016.5,3017,3017.5,3018,3018.5,3019,3019.5,3020,3020.5,3021,3021.5,3022,3022.5,3023,3023.5,3024],"grid":true,"labels":false,"ticks":false,"domain":false,"title":null,"gridDash":{"condition":{"test":"datum.value % 2 === 0","value":[]},"value":[2,2]},"gridColor":{"condition":{"test":"datum.value % 2 === 0","value":"#5c5c5c"},"value":"#b4b4b4"},"gridWidth":{"condition":{"test":"datum.value % 2 === 0","value":1.5},"value":1}}},
    "order": {"field": "d", "type": "quantitative"}}}
 ]},
{"width": 263, "height": 768,
 "resolve": {"scale": {"x": "independent"}, "axis": {"x": "independent"}},
 "layer": [
  {"data": {"name": "lith"}, "mark": {"type": "rule", "stroke": "#5a5a5a", "strokeWidth": 2},
   "encoding": {
    "x": {"datum": 0, "type": "quantitative", "scale": {"domain": [0, 10], "nice": false, "zero": false},
      "axis": {"orient": "bottom", "values": [1,2,3,4,5,6,7,8,9], "grid": true, "labels": false, "ticks": false, "domain": false, "title": null,
        "gridDash": {"condition": {"test": "datum.value === 5", "value": []}, "value": [2, 2]},
        "gridColor": {"condition": {"test": "datum.value === 5", "value": "#5c5c5c"}, "value": "#b4b4b4"},
        "gridWidth": {"condition": {"test": "datum.value === 5", "value": 1.5}, "value": 1}}},
    "y": {"datum": 2988.372, "type": "quantitative", "scale": {"domain":[2988.372,3024.093],"reverse":true,"nice":false,"zero":false},
      "axis": {"values": [2988.5,2989,2989.5,2990,2990.5,2991,2991.5,2992,2992.5,2993,2993.5,2994,2994.5,2995,2995.5,2996,2996.5,2997,2997.5,2998,2998.5,2999,2999.5,3000,3000.5,3001,3001.5,3002,3002.5,3003,3003.5,3004,3004.5,3005,3005.5,3006,3006.5,3007,3007.5,3008,3008.5,3009,3009.5,3010,3010.5,3011,3011.5,3012,3012.5,3013,3013.5,3014,3014.5,3015,3015.5,3016,3016.5,3017,3017.5,3018,3018.5,3019,3019.5,3020,3020.5,3021,3021.5,3022,3022.5,3023,3023.5,3024],"grid":true,"labels":false,"ticks":false,"domain":false,"title":null,"gridDash":{"condition":{"test":"datum.value % 2 === 0","value":[]},"value":[2,2]},"gridColor":{"condition":{"test":"datum.value % 2 === 0","value":"#5c5c5c"},"value":"#b4b4b4"},"gridWidth":{"condition":{"test":"datum.value % 2 === 0","value":1.5},"value":1}}},
    "y2": {"datum": 3024.093}}},
  {"data": {"name": "bounds"}, "mark": {"type": "rule", "stroke": "#1f1f96", "strokeWidth": 2}, "encoding": {"y": {"field": "d", "type": "quantitative", "scale": {"domain":[2988.372,3024.093],"reverse":true,"nice":false,"zero":false},
      "axis": {"values": [2988.5,2989,2989.5,2990,2990.5,2991,2991.5,2992,2992.5,2993,2993.5,2994,2994.5,2995,2995.5,2996,2996.5,2997,2997.5,2998,2998.5,2999,2999.5,3000,3000.5,3001,3001.5,3002,3002.5,3003,3003.5,3004,3004.5,3005,3005.5,3006,3006.5,3007,3007.5,3008,3008.5,3009,3009.5,3010,3010.5,3011,3011.5,3012,3012.5,3013,3013.5,3014,3014.5,3015,3015.5,3016,3016.5,3017,3017.5,3018,3018.5,3019,3019.5,3020,3020.5,3021,3021.5,3022,3022.5,3023,3023.5,3024],"grid":true,"labels":false,"ticks":false,"domain":false,"title":null,"gridDash":{"condition":{"test":"datum.value % 2 === 0","value":[]},"value":[2,2]},"gridColor":{"condition":{"test":"datum.value % 2 === 0","value":"#5c5c5c"},"value":"#b4b4b4"},"gridWidth":{"condition":{"test":"datum.value % 2 === 0","value":1.5},"value":1}}}}},
  {"data": {"name": "bk"}, "mark": {"type": "line", "stroke": "#000000", "strokeWidth": 2.4, "clip": true},
   "encoding": {"x": {"field": "v", "type": "quantitative", "scale": {"type": "log", "domain": [2, 200], "nice": false},
     "axis": {"orient": "top", "offset": 109, "values": [2, 20, 200], "format": "~g", "grid": false, "domainColor": "#111", "domainWidth": 2, "tickColor": "#111", "tickSize": 5, "tickWidth": 1.5, "labelColor": "#222", "labelFont": "DejaVu Sans", "labelFontSize": 11, "labelBaseline": "top", "labelPadding": -8, "labelFlush": true, "title": "БК, Ом˙м", "titleFont": "Open Sans", "titleFontSize": 23, "titleColor": "#111", "titleBaseline": "middle", "titleY": -15}},
    "y": {"field": "d", "type": "quantitative", "scale": {"domain":[2988.372,3024.093],"reverse":true,"nice":false,"zero":false},
      "axis": {"values": [2988.5,2989,2989.5,2990,2990.5,2991,2991.5,2992,2992.5,2993,2993.5,2994,2994.5,2995,2995.5,2996,2996.5,2997,2997.5,2998,2998.5,2999,2999.5,3000,3000.5,3001,3001.5,3002,3002.5,3003,3003.5,3004,3004.5,3005,3005.5,3006,3006.5,3007,3007.5,3008,3008.5,3009,3009.5,3010,3010.5,3011,3011.5,3012,3012.5,3013,3013.5,3014,3014.5,3015,3015.5,3016,3016.5,3017,3017.5,3018,3018.5,3019,3019.5,3020,3020.5,3021,3021.5,3022,3022.5,3023,3023.5,3024],"grid":true,"labels":false,"ticks":false,"domain":false,"title":null,"gridDash":{"condition":{"test":"datum.value % 2 === 0","value":[]},"value":[2,2]},"gridColor":{"condition":{"test":"datum.value % 2 === 0","value":"#5c5c5c"},"value":"#b4b4b4"},"gridWidth":{"condition":{"test":"datum.value % 2 === 0","value":1.5},"value":1}}},
    "order": {"field": "d", "type": "quantitative"}}}
 ]},
{"width": 347, "height": 768,
 "resolve": {"scale": {"x": "independent"}, "axis": {"x": "independent"}},
 "layer": [
  {"data": {"name": "lith"}, "mark": {"type": "rule", "stroke": "#5a5a5a", "strokeWidth": 1.5},
   "encoding": {
    "x": {"datum": 1, "type": "quantitative", "scale": {"type": "log", "domain": [0.948, 464.2], "nice": false},
      "axis": {"orient": "bottom", "values": [2,3,4,5,6,7,8,9,10,20,30,40,50,60,70,80,90,100,200,300,400], "grid": true, "labels": false, "ticks": false, "domain": false, "title": null,
        "gridDash": {"condition": {"test": "datum.value === 10 || datum.value === 100", "value": []}, "value": [2, 2]},
        "gridColor": {"condition": {"test": "datum.value === 10 || datum.value === 100", "value": "#5c5c5c"}, "value": "#b4b4b4"},
        "gridWidth": {"condition": {"test": "datum.value === 10 || datum.value === 100", "value": 1.5}, "value": 1}}},
    "y": {"datum": 2988.372, "type": "quantitative", "scale": {"domain":[2988.372,3024.093],"reverse":true,"nice":false,"zero":false},
      "axis": {"values": [2988.5,2989,2989.5,2990,2990.5,2991,2991.5,2992,2992.5,2993,2993.5,2994,2994.5,2995,2995.5,2996,2996.5,2997,2997.5,2998,2998.5,2999,2999.5,3000,3000.5,3001,3001.5,3002,3002.5,3003,3003.5,3004,3004.5,3005,3005.5,3006,3006.5,3007,3007.5,3008,3008.5,3009,3009.5,3010,3010.5,3011,3011.5,3012,3012.5,3013,3013.5,3014,3014.5,3015,3015.5,3016,3016.5,3017,3017.5,3018,3018.5,3019,3019.5,3020,3020.5,3021,3021.5,3022,3022.5,3023,3023.5,3024],"grid":true,"labels":false,"ticks":false,"domain":false,"title":null,"gridDash":{"condition":{"test":"datum.value % 2 === 0","value":[]},"value":[2,2]},"gridColor":{"condition":{"test":"datum.value % 2 === 0","value":"#5c5c5c"},"value":"#b4b4b4"},"gridWidth":{"condition":{"test":"datum.value % 2 === 0","value":1.5},"value":1}}},
    "y2": {"datum": 3024.093}}},
  {"data": {"name": "bounds"}, "mark": {"type": "rule", "stroke": "#1f1f96", "strokeWidth": 2}, "encoding": {"y": {"field": "d", "type": "quantitative", "scale": {"domain":[2988.372,3024.093],"reverse":true,"nice":false,"zero":false},
      "axis": {"values": [2988.5,2989,2989.5,2990,2990.5,2991,2991.5,2992,2992.5,2993,2993.5,2994,2994.5,2995,2995.5,2996,2996.5,2997,2997.5,2998,2998.5,2999,2999.5,3000,3000.5,3001,3001.5,3002,3002.5,3003,3003.5,3004,3004.5,3005,3005.5,3006,3006.5,3007,3007.5,3008,3008.5,3009,3009.5,3010,3010.5,3011,3011.5,3012,3012.5,3013,3013.5,3014,3014.5,3015,3015.5,3016,3016.5,3017,3017.5,3018,3018.5,3019,3019.5,3020,3020.5,3021,3021.5,3022,3022.5,3023,3023.5,3024],"grid":true,"labels":false,"ticks":false,"domain":false,"title":null,"gridDash":{"condition":{"test":"datum.value % 2 === 0","value":[]},"value":[2,2]},"gridColor":{"condition":{"test":"datum.value % 2 === 0","value":"#5c5c5c"},"value":"#b4b4b4"},"gridWidth":{"condition":{"test":"datum.value % 2 === 0","value":1.5},"value":1}}}}},
  {"layer": [
    {"data": {"name": "bkz"}, "mark": {"type": "line", "strokeWidth": 2, "interpolate": "catmull-rom", "clip": true},
     "encoding": {"x": {"field": "v", "type": "quantitative", "scale": {"type": "log", "domain": [0.948, 464.2], "nice": false},
       "axis": {"orient": "top", "offset": 34, "values": [1, 10, 100], "format": "~g", "grid": false, "domainColor": "#111", "domainWidth": 2, "tickColor": "#111", "tickSize": 4, "tickWidth": 1.5, "labelColor": "#222", "labelFont": "DejaVu Serif", "labelFontSize": 11, "labelBaseline": "top", "labelPadding": -7, "labelFlush": false, "title": "УЭС, Ом˙м", "titleFont": "Open Sans", "titleFontSize": 23, "titleColor": "#111", "titleBaseline": "middle", "titleY": -20}},
      "y": {"field": "d", "type": "quantitative", "scale": {"domain":[2988.372,3024.093],"reverse":true,"nice":false,"zero":false},
      "axis": {"values": [2988.5,2989,2989.5,2990,2990.5,2991,2991.5,2992,2992.5,2993,2993.5,2994,2994.5,2995,2995.5,2996,2996.5,2997,2997.5,2998,2998.5,2999,2999.5,3000,3000.5,3001,3001.5,3002,3002.5,3003,3003.5,3004,3004.5,3005,3005.5,3006,3006.5,3007,3007.5,3008,3008.5,3009,3009.5,3010,3010.5,3011,3011.5,3012,3012.5,3013,3013.5,3014,3014.5,3015,3015.5,3016,3016.5,3017,3017.5,3018,3018.5,3019,3019.5,3020,3020.5,3021,3021.5,3022,3022.5,3023,3023.5,3024],"grid":true,"labels":false,"ticks":false,"domain":false,"title":null,"gridDash":{"condition":{"test":"datum.value % 2 === 0","value":[]},"value":[2,2]},"gridColor":{"condition":{"test":"datum.value % 2 === 0","value":"#5c5c5c"},"value":"#b4b4b4"},"gridWidth":{"condition":{"test":"datum.value % 2 === 0","value":1.5},"value":1}}},
      "stroke": {"field": "c", "type": "nominal", "scale": {"domain": ["A04M01N", "A2M05N", "A1M01N", "A4M05N"], "range": ["#ff1a1a", "#000000", "#d2781f", "#1a1aff"]},
        "legend": {"title": "БКЗ", "orient": "none", "legendX": 643, "legendY": -161, "direction": "horizontal", "columns": 2, "symbolType": "M-2,0L2,0", "symbolSize": 576, "symbolStrokeWidth": 3.5, "labelFont": "DejaVu Sans", "labelFontSize": 17, "labelColor": "#111", "labelOffset": 14, "titleFont": "Open Sans", "titleFontSize": 21, "titleFontWeight": "normal", "titleColor": "#111", "titleAnchor": "middle", "titlePadding": 15, "rowPadding": 4, "columnPadding": 7}},
      "order": {"field": "d", "type": "quantitative"}}},
    {"data": {"name": "steps"}, "mark": {"type": "rule", "strokeWidth": 2.5},
     "encoding": {"x": {"field": "v", "type": "quantitative", "scale": {"type": "log", "domain": [0.948, 464.2], "nice": false}, "axis": null},
      "y": {"field": "top", "type": "quantitative", "scale": {"domain":[2988.372,3024.093],"reverse":true,"nice":false,"zero":false},
      "axis": {"values": [2988.5,2989,2989.5,2990,2990.5,2991,2991.5,2992,2992.5,2993,2993.5,2994,2994.5,2995,2995.5,2996,2996.5,2997,2997.5,2998,2998.5,2999,2999.5,3000,3000.5,3001,3001.5,3002,3002.5,3003,3003.5,3004,3004.5,3005,3005.5,3006,3006.5,3007,3007.5,3008,3008.5,3009,3009.5,3010,3010.5,3011,3011.5,3012,3012.5,3013,3013.5,3014,3014.5,3015,3015.5,3016,3016.5,3017,3017.5,3018,3018.5,3019,3019.5,3020,3020.5,3021,3021.5,3022,3022.5,3023,3023.5,3024],"grid":true,"labels":false,"ticks":false,"domain":false,"title":null,"gridDash":{"condition":{"test":"datum.value % 2 === 0","value":[]},"value":[2,2]},"gridColor":{"condition":{"test":"datum.value % 2 === 0","value":"#5c5c5c"},"value":"#b4b4b4"},"gridWidth":{"condition":{"test":"datum.value % 2 === 0","value":1.5},"value":1}}},
      "y2": {"field": "bot"},
      "stroke": {"field": "c", "type": "nominal", "scale": {"domain": ["A04M01N", "A2M05N", "A1M01N", "A4M05N"], "range": ["#ff1a1a", "#000000", "#d2781f", "#1a1aff"]},
        "legend": {"title": "БКЗ", "orient": "none", "legendX": 643, "legendY": -161, "direction": "horizontal", "columns": 2, "symbolType": "M-2,0L2,0", "symbolSize": 576, "symbolStrokeWidth": 3.5, "labelFont": "DejaVu Sans", "labelFontSize": 17, "labelColor": "#111", "labelOffset": 14, "titleFont": "Open Sans", "titleFontSize": 21, "titleFontWeight": "normal", "titleColor": "#111", "titleAnchor": "middle", "titlePadding": 15, "rowPadding": 4, "columnPadding": 7}}}}
  ]}
 ]},
{"width": 257, "height": 768,
 "title": {"text": ["Геоэлектрическая", "модель"], "font": "Open Sans", "fontSize": 21, "fontWeight": "normal", "color": "#222", "lineHeight": 35, "offset": 12, "anchor": "middle"},
 "layer": [
  {"data": {"name": "model"}, "mark": {"type": "rect", "clip": true},
   "encoding": {"x": {"field": "r1", "type": "quantitative", "scale": {"domain": [-0.0546, 2.754], "nice": false, "zero": false},
     "axis": {"orient": "top", "offset": 109, "values": [0, 0.5, 1, 1.5, 2, 2.5], "format": "~g", "grid": false, "domainColor": "#888", "domainWidth": 1.5, "tickColor": "#666", "tickSize": 5, "tickWidth": 1, "labelColor": "#222", "labelFont": "DejaVu Sans", "labelFontSize": 12, "labelBaseline": "top", "labelPadding": -10, "labelFlush": false, "title": "Radius, m", "titleFont": "DejaVu Sans", "titleFontSize": 12, "titleColor": "#222", "titleBaseline": "middle", "titleY": -12}},
    "x2": {"field": "r2"},
    "y": {"field": "top", "type": "quantitative", "scale": {"domain":[2988.372,3024.093],"reverse":true,"nice":false,"zero":false}, "axis": null},
    "y2": {"field": "bot"},
    "fill": {"field": "ro", "type": "quantitative", "scale": {"type": "log", "domain": [0.01, 0.3, 1.5, 4, 5.15, 5.6, 6.62, 11, 18.4, 30.6, 45, 50, 80, 100, 250], "range": ["#1c1b78", "#15229a", "#0a3ae0", "#1260b8", "#176e90", "#1a7280", "#1e8070", "#33c418", "#55cc11", "#99dd0a", "#e8e80a", "#f5f000", "#ff7700", "#ff2a0a", "#ff2d6e"], "interpolate": "rgb"},
     "legend": {"title": "Ro, ohm*m", "orient": "none", "legendX": 1012, "legendY": -83, "direction": "horizontal", "gradientLength": 156, "gradientThickness": 18, "gradientStrokeColor": "#222", "gradientStrokeWidth": 1, "values": [0.01, 250], "format": "~g", "labelAlign": "center", "labelFont": "DejaVu Sans", "labelFontSize": 12, "labelColor": "#222", "labelOffset": 2, "titleFont": "DejaVu Sans", "titleFontSize": 11, "titleFontWeight": "normal", "titleColor": "#222", "titleAnchor": "middle", "titlePadding": 19}}}},
  {"data": {"name": "model"},
   "transform": [{"filter": "datum.lab != null"}, {"calculate": "(datum.r1 + datum.r2) / 2", "as": "xm"}, {"calculate": "(datum.top + datum.bot) / 2", "as": "ym"}],
   "mark": {"type": "text", "fontSize": 8, "color": "#1a1a1a", "font": "DejaVu Sans"},
   "encoding": {"x": {"field": "xm", "type": "quantitative"},
    "y": {"field": "ym", "type": "quantitative", "scale": {"domain":[2988.372,3024.093],"reverse":true,"nice":false,"zero":false}, "axis": null},
    "text": {"field": "lab"}}},
  {"data": {"name": "bounds"}, "mark": {"type": "rule", "stroke": "#14147a", "strokeWidth": 2}, "encoding": {"y": {"field": "d", "type": "quantitative", "scale": {"domain":[2988.372,3024.093],"reverse":true,"nice":false,"zero":false}, "axis": null}}}
 ]}
]
}
